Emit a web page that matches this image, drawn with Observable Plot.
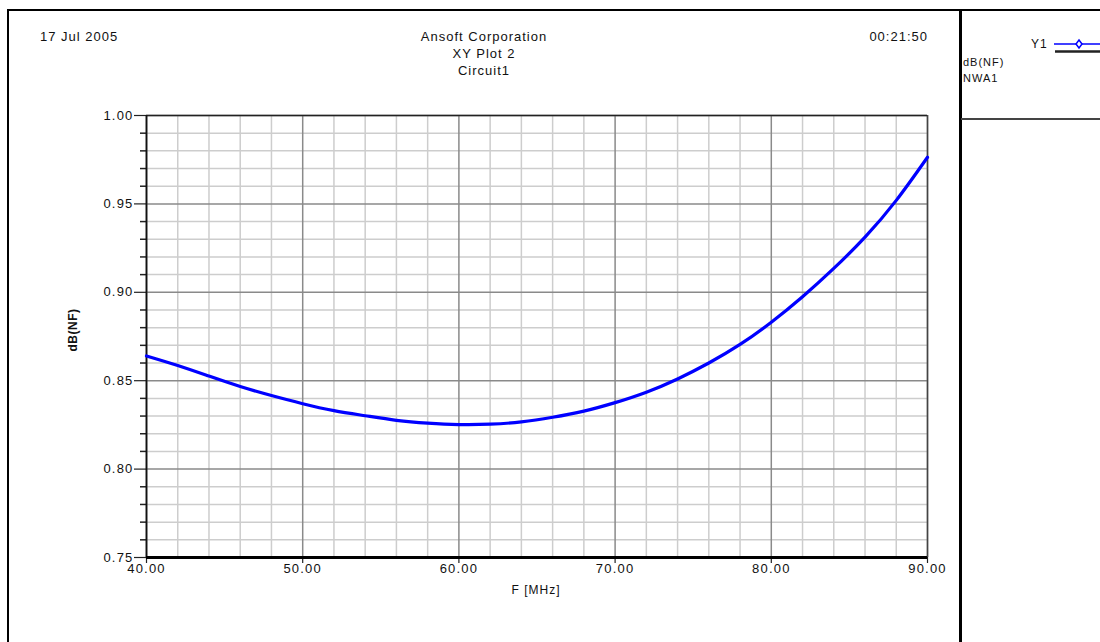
<!DOCTYPE html>
<html><head><meta charset="utf-8">
<script src="https://cdn.jsdelivr.net/npm/d3@7"></script>
<script src="https://cdn.jsdelivr.net/npm/@observablehq/plot@0.6"></script>
<style>
body{margin:0;background:#fff;}
#page{position:relative;width:1100px;height:642px;overflow:hidden;font-family:"Liberation Sans",Arial,sans-serif;color:#111;}
.t{position:absolute;font-size:13px;letter-spacing:1px;line-height:17px;white-space:nowrap;}
.c{transform:translateX(-50%);text-align:center;}
.ln{position:absolute;background:#000;}
#chart{position:absolute;left:0;top:0;}
#chart text{letter-spacing:1.2px;}
</style>
</head><body>
<div id="page">
  <div id="chart"></div>
  <div class="ln" style="left:8px;top:9px;width:1092px;height:2px;"></div>
  <div class="ln" style="left:7px;top:9px;width:2px;height:640px;"></div>
  <div class="ln" style="left:959px;top:9px;width:3px;height:640px;"></div>
  <div class="ln" style="left:961px;top:118px;width:139px;height:2px;background:#444;"></div>
  <div class="t" style="left:40px;top:28px;">17 Jul 2005</div>
  <div class="t c" style="left:484px;top:28px;">Ansoft Corporation<br>XY Plot 2<br>Circuit1</div>
  <div class="t" style="right:172px;top:28px;">00:21:50</div>
  <div class="t" style="left:58px;top:328px;font-weight:bold;font-size:12px;letter-spacing:0.5px;transform:rotate(-90deg);transform-origin:center;width:30px;">dB(NF)</div>
  <div class="t c" style="left:536px;top:582px;font-size:12px;">F [MHz]</div>
  <div class="t" style="left:1031px;top:36px;font-size:12px;">Y1</div>
  <svg style="position:absolute;left:1052px;top:36px;" width="48" height="20">
    <line x1="2" y1="8" x2="48" y2="8" stroke="#0000ff" stroke-width="1.5"/>
    <path d="M27 4 L30 8 L27 12 L24 8 Z" fill="#fff" stroke="#0000ff" stroke-width="1.5"/>
    <line x1="3" y1="15.5" x2="48" y2="15.5" stroke="#222" stroke-width="2.5"/>
  </svg>
  <div class="t" style="left:963px;top:54px;font-size:11px;letter-spacing:1px;line-height:16px;">dB(NF)<br>NWA1</div>
</div>
<script>
const freqMHz = [40,42,44,46,48,50,52,54,56,58,60,62,64,66,68,70,72,74,76,78,80,82,84,86,88,90];
const nfDb    = [0.864,0.8586,0.8526,0.8467,0.8416,0.8370,0.8331,0.8302,0.8276,0.8260,0.8252,0.8254,0.8267,0.8293,0.8328,0.8376,0.8435,0.8510,0.8600,0.8705,0.8831,0.8975,0.9135,0.9312,0.9520,0.9764];
const xMajorTicks = [40,50,60,70,80,90];
const xMinorTicks = [42,44,46,48,52,54,56,58,62,64,66,68,72,74,76,78,82,84,86,88];
const yMajorTicks = [0.75,0.80,0.85,0.90,0.95,1.00];
const yMinorTicks = [0.76,0.77,0.78,0.79,0.81,0.82,0.83,0.84,0.86,0.87,0.88,0.89,0.91,0.92,0.93,0.94,0.96,0.97,0.98,0.99];

const data = freqMHz.map((f,i)=>({f, v: nfDb[i]}));
const fmt = d3.format(".2f");
const chart = Plot.plot({
  width: 955, height: 642,
  marginLeft: 146, marginRight: 28, marginTop: 115, marginBottom: 85,
  x: {domain: [40, 90]},
  y: {domain: [0.75, 1.0]},
  style: {fontFamily: "'Liberation Sans', Arial, sans-serif", fontSize: "13px", color: "#111", background: "transparent", overflow: "visible"},
  marks: [
    Plot.gridX(xMinorTicks, {stroke: "#cdcdcd", strokeOpacity: 1, strokeWidth: 1.5}),
    Plot.gridY(yMinorTicks, {stroke: "#cdcdcd", strokeOpacity: 1, strokeWidth: 1.5}),
    Plot.gridX(xMajorTicks, {stroke: "#8a8a8a", strokeOpacity: 1, strokeWidth: 1.5}),
    Plot.gridY(yMajorTicks, {stroke: "#8a8a8a", strokeOpacity: 1, strokeWidth: 1.5}),
    Plot.axisY(yMinorTicks, {tickSize: 6, tickFormat: () => "", label: null, stroke: "#222", strokeWidth: 1.5}),
    Plot.axisY(yMajorTicks, {tickSize: 12, tickPadding: 1, tickFormat: fmt, label: null, stroke: "#222", strokeWidth: 1.2}),
    Plot.axisX(xMajorTicks, {tickSize: 6, tickPadding: 0, tickFormat: fmt, label: null, stroke: "#222", strokeWidth: 1.2}),
    Plot.ruleX([90], {stroke: "#444", strokeWidth: 1.5}),
    Plot.ruleY([1.0], {stroke: "#222", strokeWidth: 1.5}),
    Plot.ruleX([40], {stroke: "#111", strokeWidth: 1.8}),
    Plot.ruleY([0.75], {stroke: "#000", strokeWidth: 3}),
    Plot.line(data, {x: "f", y: "v", stroke: "#0000ff", strokeWidth: 3.2, curve: "natural"})
  ]
});
document.getElementById("chart").appendChild(chart);
</script>
</body></html>
